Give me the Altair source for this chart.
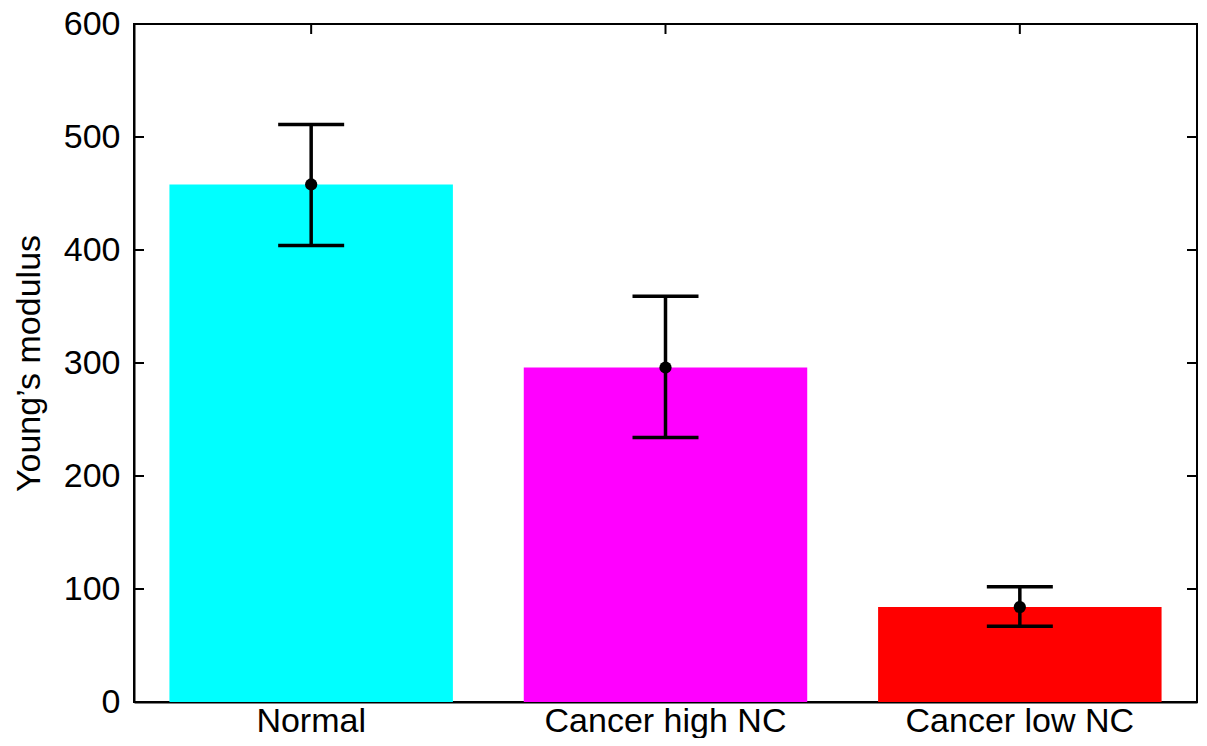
import altair as alt
import pandas as pd

categories = ["Normal", "Cancer high NC", "Cancer low NC"]
means = [458, 296, 84]
err_low = [404, 234, 67]
err_high = [511, 359, 102]
colors = ["#00FFFF", "#FF00FF", "#FF0000"]
y_ticks = [0, 100, 200, 300, 400, 500, 600]

W, H = 1063, 678
FONT = "Liberation Sans"
FS = 34

df = pd.DataFrame({"cat": categories, "mean": means, "lo": err_low, "hi": err_high, "color": colors})
tdf = pd.DataFrame({"v": y_ticks})

xenc = alt.X("cat:N", sort=categories,
             scale=alt.Scale(paddingInner=0.2, paddingOuter=0.1),
             axis=alt.Axis(title=None, labelAngle=0, ticks=False, labelPadding=2, labelLimit=0,
                           labelFontSize=FS, labelFont=FONT, labelColor="black",
                           domainColor="black", domainWidth=2))
yscale = alt.Scale(domain=[0, 600], nice=False)
yenc = alt.Y("mean:Q", scale=yscale,
             axis=alt.Axis(title="Young’s modulus", values=y_ticks, ticks=False, grid=False,
                           labelPadding=14, labelFontSize=FS, labelFont=FONT, labelColor="black",
                           titleFontSize=FS, titleFont=FONT, titleFontWeight="normal",
                           titleColor="black", titlePadding=17,
                           domainColor="black", domainWidth=2))

base = alt.Chart(df)
bars = base.mark_bar().encode(x=xenc, y=yenc,
                              color=alt.Color("color:N", scale=None))
rules = base.mark_rule(color="black", strokeWidth=3.5).encode(
    x=alt.X("cat:N", sort=categories), y=alt.Y("lo:Q", scale=yscale), y2="hi:Q")
cap_lo = base.mark_tick(color="black", thickness=3.5, size=66, opacity=1).encode(
    x=alt.X("cat:N", sort=categories), y=alt.Y("lo:Q", scale=yscale))
cap_hi = base.mark_tick(color="black", thickness=3.5, size=66, opacity=1).encode(
    x=alt.X("cat:N", sort=categories), y=alt.Y("hi:Q", scale=yscale))
pts = base.mark_circle(color="black", opacity=1, size=150).encode(
    x=alt.X("cat:N", sort=categories), y=alt.Y("mean:Q", scale=yscale))

tl = alt.Chart(tdf).mark_rule(color="black", strokeWidth=2).encode(
    y=alt.Y("v:Q", scale=yscale), x=alt.value(0), x2=alt.value(10))
tr = alt.Chart(tdf).mark_rule(color="black", strokeWidth=2).encode(
    y=alt.Y("v:Q", scale=yscale), x=alt.value(W - 10), x2=alt.value(W))
tt = base.mark_rule(color="black", strokeWidth=2).encode(
    x=alt.X("cat:N", sort=categories), y=alt.value(0), y2=alt.value(10))

chart = alt.layer(bars, tl, tr, tt, rules, cap_lo, cap_hi, pts).properties(
    width=W, height=H,
    autosize=alt.AutoSizeParams(type="none"),
    padding={"left": 126, "top": 16, "right": 2, "bottom": 36},
).configure(background="white").configure_view(stroke="black", strokeWidth=2)

chart.save("out.html", embed_options={"renderer": "svg", "actions": False})
